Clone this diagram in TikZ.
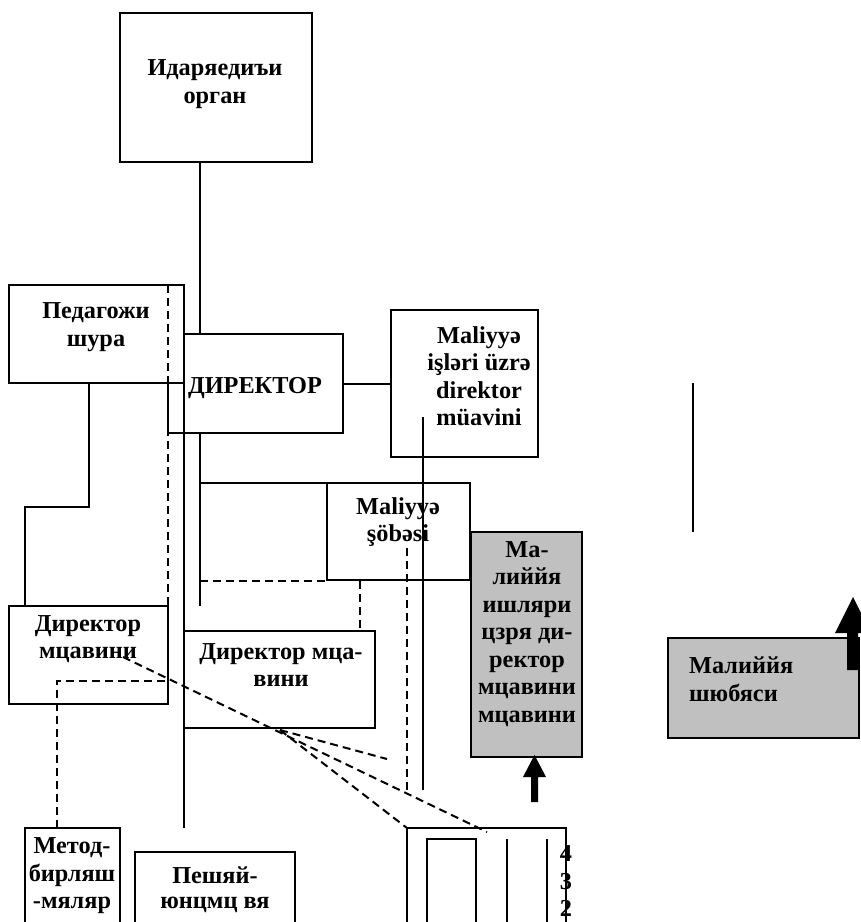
\documentclass[tikz,border=0pt]{standalone}
\usepackage{fontspec}
\setmainfont{Liberation Serif}
\definecolor{boxgray}{HTML}{C0C0C0}
\begin{document}
\begin{tikzpicture}[x=1pt,y=-1pt,
  box/.style={draw, line width=2pt, anchor=north west, inner sep=0pt, outer sep=0pt},
  graybox/.style={box, fill=boxgray},
  lbl/.style={font=\bfseries\fontsize{24.3}{27.5}\selectfont, align=center, inner sep=0pt},
  ln/.style={line width=2pt},
  dln/.style={line width=2pt, dash pattern=on 8pt off 5pt},
  thin/.style={line width=1.4pt}]
\useasboundingbox (0,0) rectangle (861,922);

% ---- boxes ----
\node[box, minimum width=192, minimum height=149] (organ) at (120,13) {};
\node[box, minimum width=175, minimum height=99] (dir) at (168,334) {};
\node[box, fill=white, minimum width=175, minimum height=98] (ped) at (9,285) {};
\node[box, minimum width=147, minimum height=147] (mfin) at (391,310) {};
\node[box, minimum width=143, minimum height=97] (msob) at (327,483) {};
\node[graybox, minimum width=111, minimum height=225] (mdm) at (471,532) {};
\node[box, minimum width=159, minimum height=98] (dml) at (9,606) {};
\node[box, minimum width=191, minimum height=97] (dmm) at (184,631) {};
\node[graybox, minimum width=191, minimum height=100] (msr) at (668,638) {};
\node[box, minimum width=95, minimum height=110] (metod) at (25,828) {};
\node[box, minimum width=160, minimum height=90] (pesh) at (135,852) {};
\node[box, minimum width=159, minimum height=110] (tbl) at (407,828) {};
\node[box, minimum width=49, minimum height=100] (tin) at (427,839) {};

% ---- texts ----
\node[lbl] (t-organ) at (215,84) {Идаряедиъи\\орган};
\node[lbl] (t-ped) at (96,327) {Педагожи\\шура};
\node[lbl] (t-dir) at (255,388) {ДИРЕКТОР};
\node[lbl] (t-mfin) at (479,376) {Maliyyə\\işləri üzrə\\direktor\\müavini};
\node[lbl] (t-msob) at (398,522) {Maliyyə\\şöbəsi};
\node[lbl] (t-mdm) at (527,634) {Ма-\\лиййя\\ишляри\\цзря ди-\\ректор\\мцавини\\мцавини};
\node[lbl] (t-dml) at (88,639) {Директор\\мцавини};
\node[lbl] (t-dmm) at (281,665) {Директор мца-\\вини};
\node[lbl, align=left, anchor=west] (t-msr) at (689,679) {Малиййя\\шюбяси};
\node[lbl] (t-metod) at (72,876) {Метод-\\бирляш\\-мяляр};
\node[lbl, font=\bfseries\fontsize{24.3}{25}\selectfont] (t-pesh) at (215,890) {Пешяй-\\юнцмц вя};
\node[lbl] (n4) at (566,853) {4};
\node[lbl] (n3) at (566,882) {3};
\node[lbl] (n2) at (566,908) {2};

% ---- junction points ----
\coordinate (c1) at (200,162);
\coordinate (c2) at (200,334);
\coordinate (c3) at (200,433);
\coordinate (c4) at (200,606);
\coordinate (c5) at (200,483);
\coordinate (c6) at (343,384);
\coordinate (c7) at (391,384);
\coordinate (c8) at (423,417);
\coordinate (c9) at (423,790);
\coordinate (p1) at (89,383);
\coordinate (p2) at (89,507);
\coordinate (p3) at (25,507);
\coordinate (p4) at (25,606);
\coordinate (v1) at (184,383);
\coordinate (v2) at (184,828);
\coordinate (r1) at (693,383);
\coordinate (r2) at (693,532);
\coordinate (d1) at (168,285);
\coordinate (d2) at (168,606);
\coordinate (d3) at (200,581);
\coordinate (d4) at (327,581);
\coordinate (d5) at (360,581);
\coordinate (d6) at (360,631);
\coordinate (d7) at (407,548);
\coordinate (d8) at (407,790);
\coordinate (d9) at (57,828);
\coordinate (d10) at (57,681);
\coordinate (d11) at (168,681);
\coordinate (e1) at (123,657);
\coordinate (e2) at (487,832);
\coordinate (e3) at (280,730);
\coordinate (e4) at (407,828);
\coordinate (e5) at (387,759);

% ---- solid connectors ----
\draw[ln] (c1) -- (c2);
\draw[ln] (c3) -- (c4);
\draw[ln] (c5) -- (msob.north west);
\draw[ln] (c6) -- (c7);
\draw[ln] (c8) -- (c9);
\draw[ln] (p1) -- (p2) -- (p3) -- (p4);
\draw[ln] (v1) -- (v2);
\draw[thin] (r1) -- (r2);
\draw[ln] (507,839) -- (507,930);
\draw[ln] (547,839) -- (547,930);

% ---- dashed connectors ----
\draw[dln] (d1) -- (d2);
\draw[dln] (d3) -- (d4);
\draw[dln] (d5) -- (d6);
\draw[dln] (d7) -- (d8);
\draw[dln] (d9) -- (d10) -- (d11);
\draw[dln] (e1) -- (e2);
\draw[dln] (e3) -- (e4);
\draw[dln] (e3) -- (e5);

% ---- block arrows ----
\fill (531,802) -- (531,777) -- (523,777) -- (534.5,755) -- (546,777)
      -- (538,777) -- (538,802) -- cycle;
\fill (847,670) -- (847,633) -- (835,633) -- (853,597) -- (871,633)
      -- (858,633) -- (858,670) -- cycle;
\end{tikzpicture}
\end{document}
